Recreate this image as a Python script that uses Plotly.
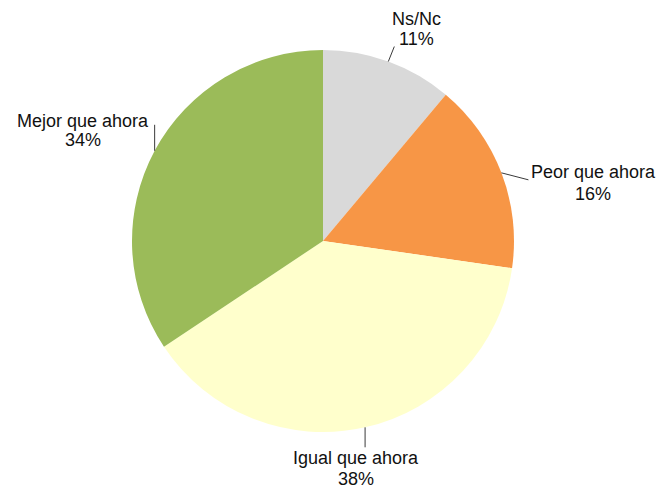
import math
import plotly.graph_objects as go

# Survey answers, in clockwise order from 12 o'clock
categories = ["Ns/Nc", "Peor que ahora", "Igual que ahora", "Mejor que ahora"]
percentages = [11, 16, 38, 34]
colors = ["#D9D9D9", "#F79646", "#FFFFCC", "#9BBB59"]

W, H = 659, 488
CX, CY, R = 323, 241, 191  # pie centre and radius in pixels

# Leader-line end and label-line centres, as pixel offsets from the slice edge point
leader_offsets = {
    "Ns/Nc": (6, -15),
    "Peor que ahora": (27, 7),
    "Igual que ahora": (0, 20),
    "Mejor que ahora": (0, -26),
}
label_offsets = {
    "Ns/Nc": (28, -43, 20),
    "Peor que ahora": (92, -1, 22),
    "Igual que ahora": (-9, 31, 21),
    "Mejor que ahora": (-72, -30, 19),
}


def px_to_paper(x, y):
    return x / W, 1 - y / H


fig = go.Figure(
    go.Pie(
        labels=categories,
        values=percentages,
        marker=dict(colors=colors, line=dict(width=0)),
        sort=False,
        direction="clockwise",
        rotation=0,
        textinfo="none",
        hoverinfo="label+value",
        showlegend=False,
        domain=dict(
            x=[(CX - R) / W, (CX + R) / W],
            y=[1 - (CY + R) / H, 1 - (CY - R) / H],
        ),
    )
)

total = sum(percentages)
cum = 0
shapes, annotations = [], []
font = dict(family="Liberation Sans, Arial, sans-serif", size=18, color="#111111")
for cat, val in zip(categories, percentages):
    mid = (cum + val / 2) / total * 2 * math.pi
    cum += val
    ex = CX + R * math.sin(mid)
    ey = CY - R * math.cos(mid)
    ldx, ldy = leader_offsets[cat]
    x0, y0 = px_to_paper(ex, ey)
    x1, y1 = px_to_paper(ex + ldx, ey + ldy)
    shapes.append(dict(type="line", xref="paper", yref="paper",
                       x0=x0, y0=y0, x1=x1, y1=y1,
                       line=dict(color="#3a3a3a", width=1)))
    tdx, tdy, gap = label_offsets[cat]
    for i, txt in enumerate([cat, f"{val}%"]):
        ax, ay = px_to_paper(ex + tdx, ey + tdy + i * gap)
        annotations.append(dict(x=ax, y=ay, xref="paper", yref="paper",
                                text=txt, showarrow=False, font=font,
                                xanchor="center", yanchor="middle"))

fig.update_layout(
    width=W, height=H,
    margin=dict(l=0, r=0, t=0, b=0),
    paper_bgcolor="white",
    plot_bgcolor="white",
    shapes=shapes,
    annotations=annotations,
)

fig.write_html("out.html")
